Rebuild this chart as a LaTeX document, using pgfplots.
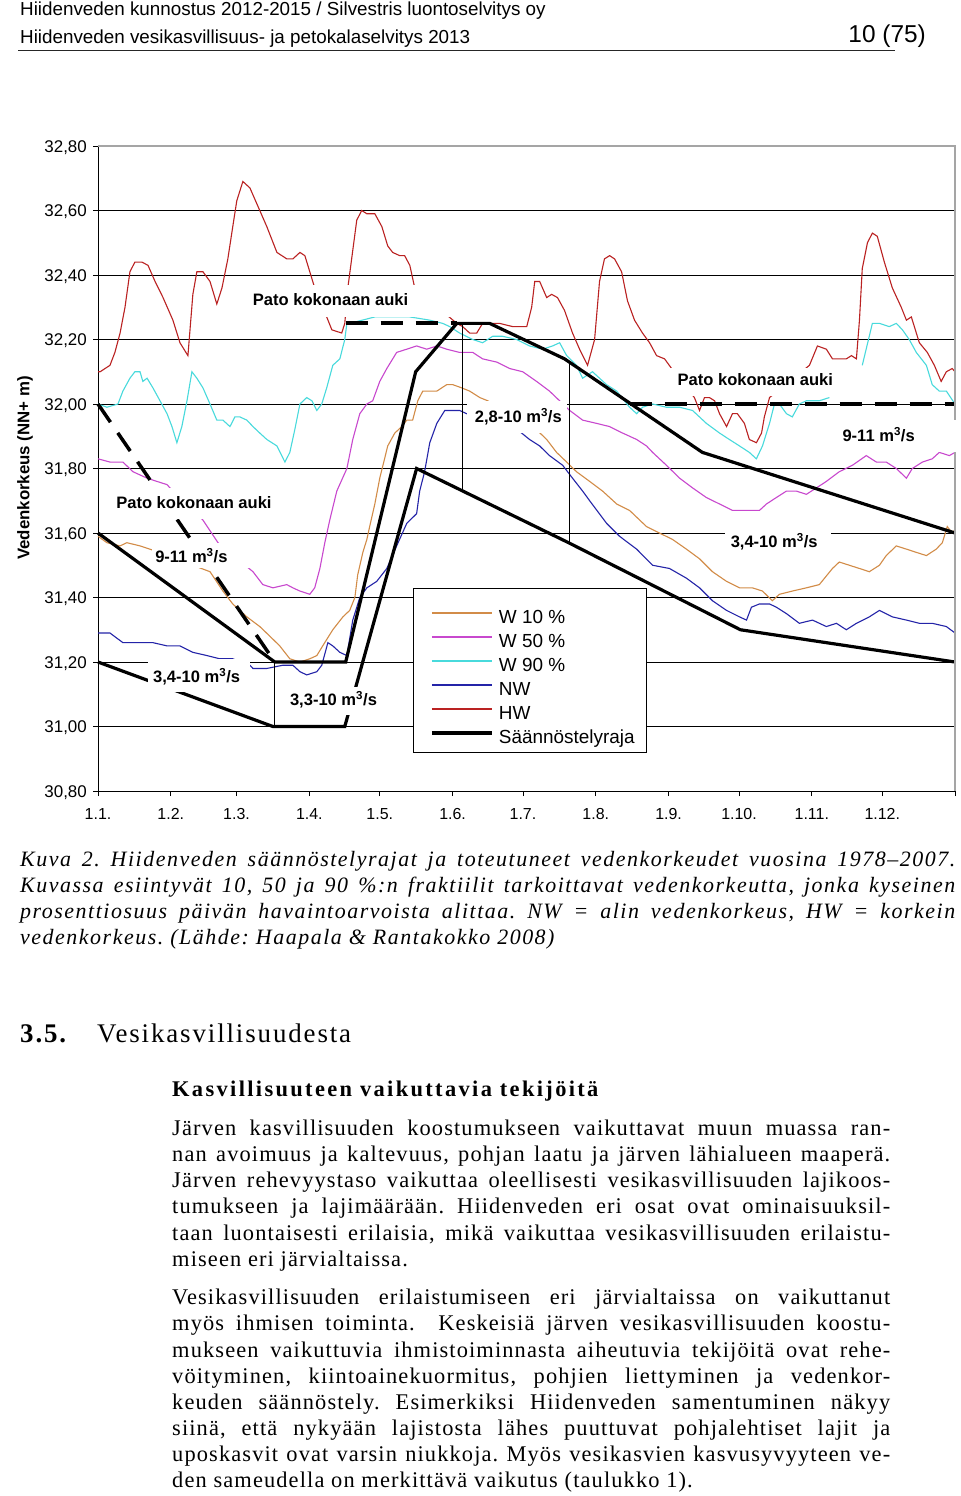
\documentclass[border=0pt]{standalone}
\usepackage{fontspec}
\usepackage{pgfplots}
\pgfplotsset{compat=1.18}
\setmainfont{Liberation Serif}
\newfontfamily\arial{Liberation Sans}
\newfontfamily\txtfont[LetterSpace=5]{Liberation Serif}
\newfontfamily\capfont[LetterSpace=7]{Liberation Serif}
\newfontfamily\subfont[LetterSpace=10.5]{Liberation Serif}
\newfontfamily\headfont[LetterSpace=7]{Liberation Serif}
\definecolor{cW10}{RGB}{210,140,72}
\definecolor{cW50}{RGB}{200,72,206}
\definecolor{cW90}{RGB}{72,218,220}
\definecolor{cNW}{RGB}{36,36,168}
\definecolor{cHW}{RGB}{186,34,34}
\definecolor{cGrey}{RGB}{165,165,165}
\tikzset{lbl/.style={anchor=west, inner sep=0pt, font=\arial\bfseries\fontsize{16.6}{17}\selectfont, text height=11.8bp, text depth=0bp}}
\newcommand\bodyline[3]{\node[anchor=base west,inner sep=0pt] at (#1,-#2) {\txtfont\fontsize{22.5}{26}\selectfont #3};}
\newcommand\capline[2]{\node[anchor=base west,inner sep=0pt] at (20,-#1) {\capfont\itshape\fontsize{22}{26}\selectfont #2};}
\frenchspacing
\begin{document}
\frenchspacing
\begin{tikzpicture}[x=1bp,y=1bp]
\path[use as bounding box, fill=white] (0,0) rectangle (960,-1496);
% header
\node[anchor=base west,inner sep=0pt,font=\arial\fontsize{18.9}{22}\selectfont] at (20,-16) {Hiidenveden kunnostus 2012-2015 / Silvestris luontoselvitys oy};
\node[anchor=base west,inner sep=0pt,font=\arial\fontsize{18.9}{22}\selectfont] at (20,-44) {Hiidenveden vesikasvillisuus- ja petokalaselvitys 2013};
\node[anchor=base east,inner sep=0pt,font=\arial\fontsize{24.5}{28}\selectfont] at (926,-42.5) {10 (75)};
\draw[line width=1.5bp, black!85] (18,-50.5) -- (895,-50.5);

\begin{axis}[
  at={(98bp,-791bp)}, anchor=south west,
  scale only axis, width=857bp, height=645bp,
  xmin=0, xmax=365, ymin=30.8, ymax=32.8,
  clip=false,
  axis x line*=bottom, axis y line*=left,
  axis line style={black, line width=1bp},
  xtick={0,31,59,90,120,151,181,212,243,273,304,334,365},
  xticklabels={1.1.,1.2.,1.3.,1.4.,1.5.,1.6.,1.7.,1.8.,1.9.,1.10.,1.11.,1.12.,{}},
  ytick={30.8,31.0,31.2,31.4,31.6,31.8,32.0,32.2,32.4,32.6,32.8},
  ymajorgrids, grid style={black, line width=0.8bp},
  tick align=outside, major tick length=5bp, tick style={black, line width=0.8bp},
  /pgf/number format/assume math mode=true,
  y tick label style={/pgf/number format/.cd, fixed, fixed zerofill, precision=2, use comma, /tikz/.cd},
  yticklabel style={font=\arial\fontsize{17}{17}\selectfont, anchor=east, inner sep=0pt, text height=12.2bp, text depth=0bp, xshift=-6bp},
  xticklabel style={font=\arial\fontsize{16}{16}\selectfont, anchor=north, inner sep=0pt, text height=11.5bp, text depth=0bp, yshift=-12bp},
  ylabel={Vedenkorkeus (NN+ m)},
  every axis y label/.style={at={(axis description cs:-0.0852,0.5008)}, rotate=90, anchor=center, font=\arial\bfseries\fontsize{16.9}{17}\selectfont},
  unbounded coords=jump,
  legend style={at={(axis cs:141.3,31.363)}, anchor=north west, draw=none, fill=none, inner sep=0pt,
     font=\arial\fontsize{19}{19}\selectfont, row sep=5bp,
     nodes={inner xsep=5bp, inner ysep=0bp, text height=14bp, text depth=5bp}},
  legend cell align=left,
  legend image code/.code={\draw[#1] (0bp,6bp) -- (60bp,6bp);},
]
% HW
\addplot[cHW, line width=1.1bp, forget plot] coordinates {
(0,32.10) (0.9,32.10) (5.1,32.12) (7.2,32.16) (9.4,32.22) (11.5,32.30) (13.6,32.41) (15.7,32.44) (18.7,32.44) (21.3,32.43) (24.3,32.38) (27.7,32.33) (31.9,32.26) (34.9,32.19) (38.3,32.15) (40.4,32.34) (42.1,32.41) (44.7,32.41) (47.7,32.38) (50.6,32.31) (52.8,32.36) (55.3,32.45) (57.4,32.55) (59.1,32.63) (61.7,32.69) (64.7,32.67) (67.7,32.62) (71.9,32.55) (76.2,32.47) (80.4,32.45) (83.0,32.45) (86.0,32.47) (88.1,32.46) (90.2,32.41) (92.3,32.36) (97.4,32.27) (99.6,32.23) (103.8,32.22) (105.1,32.25) (106.4,32.36) (110.2,32.57) (112.3,32.60) (114.5,32.59) (117.9,32.59) (120.9,32.55) (123.4,32.49) (125.5,32.47) (128.5,32.46) (130.6,32.46) (132.8,32.43) (134.9,32.36) (152.8,32.25) (155.3,32.24) (158.3,32.22) (161.3,32.22) (163.8,32.25) (166.8,32.25) (171.1,32.25) (176.6,32.24) (182.6,32.24) (184.7,32.30) (186.0,32.38) (188.1,32.38) (191.1,32.33) (193.2,32.34) (195.7,32.33) (198.7,32.29) (202.1,32.22) (205.1,32.17) (208.5,32.12) (211.5,32.20) (213.6,32.38) (215.7,32.45) (217.9,32.46) (220.0,32.45) (223.0,32.41) (225.5,32.32) (228.5,32.26) (231.9,32.22) (234.9,32.19) (237.9,32.15) (241.3,32.14) (244.3,32.11) (254.0,32.02) (256.2,31.98) (258.3,32.02) (260.4,32.02) (262.6,32.01) (264.7,31.97) (267.7,31.93) (270.2,31.97) (272.3,31.97) (275.3,31.94) (277.4,31.89) (280.4,31.88) (282.6,31.91) (283.8,31.96) (286.0,32.02) (303.0,32.12) (306.4,32.18) (310.2,32.17) (312.8,32.14) (315.7,32.14) (318.7,32.14) (320.9,32.15) (323.0,32.14) (324.3,32.26) (325.5,32.42) (327.7,32.50) (329.8,32.53) (331.9,32.52) (334.9,32.44) (338.3,32.36) (342.1,32.30) (344.3,32.26) (346.4,32.27) (349.8,32.19) (353.2,32.16) (356.2,32.12) (359.1,32.07) (361.3,32.10) (363.8,32.11) (365,32.10)};
% W 90
\addplot[cW90, line width=1.1bp, forget plot] coordinates {
(0,32.00) (3.8,31.99) (8.5,32.00) (10.6,32.04) (13.6,32.08) (15.7,32.10) (17.9,32.10) (19.1,32.07) (20.9,32.08) (23.4,32.05) (26.4,32.01) (29.4,31.97) (31.5,31.93) (33.6,31.88) (35.7,31.93) (37.9,32.01) (40.0,32.10) (42.1,32.08) (44.7,32.05) (47.7,32.00) (50.6,31.95) (53.2,31.95) (56.2,31.93) (58.3,31.96) (60.4,31.96) (63.4,31.95) (66.0,31.93) (68.9,31.91) (71.9,31.89) (76.2,31.87) (79.6,31.82) (81.7,31.85) (83.8,31.92) (86.0,32.00) (88.9,32.02) (91.1,32.01) (93.2,31.98) (95.3,32.00) (97.4,32.05) (100.0,32.12) (103.0,32.14) (105.1,32.20) (106.0,32.25) (107.2,32.25) (117.9,32.27) (127.2,32.27) (132.8,32.27) (141.3,32.26) (146.8,32.25) (149.8,32.24) (154.0,32.22) (159.6,32.20) (163.8,32.19) (168.1,32.21) (172.3,32.21) (178.3,32.20) (183.8,32.18) (189.4,32.17) (193.6,32.18) (196.6,32.19) (199.6,32.15) (203.8,32.12) (206.4,32.08) (210.6,32.10) (213.6,32.08) (216.6,32.06) (220.9,32.04) (226.4,31.99) (229.4,31.97) (231.9,31.99) (236.2,32.00) (242.1,31.99) (247.7,31.99) (253.2,31.98) (259.1,31.94) (264.7,31.91) (268.9,31.89) (273.2,31.87) (277.4,31.85) (280.4,31.83) (283.0,31.87) (286.0,31.94) (288.1,32.00) (290.2,32.00) (293.2,31.97) (295.7,31.96) (298.7,32.00) (301.7,32.01) (307.2,32.01) (311.5,32.02) (318,nan) (325.5,32.12) (329.8,32.25) (332.8,32.25) (337.0,32.24) (340.0,32.25) (342.6,32.23) (345.5,32.20) (348.5,32.16) (352.8,32.12) (355.3,32.06) (358.3,32.04) (361.3,32.04) (365,32.00)};
% W 50
\addplot[cW50, line width=1.1bp, forget plot] coordinates {
(0,31.83) (5.1,31.82) (10.6,31.82) (14.9,31.79) (20.9,31.77) (25.1,31.76) (29.4,31.75) (31.9,31.73) (44.7,31.64) (51.1,31.57) (66.0,31.48) (70.2,31.44) (74.5,31.43) (80.4,31.44) (83.0,31.43) (86.0,31.42) (90.2,31.41) (92.3,31.43) (94.5,31.49) (96.6,31.57) (98.7,31.64) (101.7,31.73) (106.0,31.80) (108.5,31.89) (111.5,31.97) (114.5,32.00) (117.0,32.01) (120.0,32.07) (123.0,32.11) (127.2,32.16) (131.5,32.17) (135.7,32.18) (140.0,32.17) (144.3,32.18) (148.5,32.17) (154.0,32.16) (159.6,32.16) (163.8,32.14) (169.8,32.13) (175.3,32.11) (180.9,32.10) (186.8,32.07) (192.3,32.04) (196.6,32.01) (200.9,31.98) (206.4,31.95) (212.3,31.94) (217.9,31.93) (223.4,31.91) (229.4,31.89) (233.6,31.87) (236.2,31.85) (242.1,31.81) (247.7,31.77) (253.2,31.74) (259.1,31.71) (264.7,31.69) (270.2,31.67) (276.2,31.67) (281.7,31.67) (284.7,31.69) (288.9,31.71) (293.2,31.73) (297.4,31.73) (301.7,31.72) (306.0,31.74) (310.2,31.76) (315.7,31.79) (321.3,31.81) (327.2,31.84) (331.5,31.82) (335.7,31.82) (340.0,31.80) (344.3,31.77) (346.8,31.80) (351.1,31.82) (355.3,31.83) (358.3,31.85) (362.6,31.84) (365,31.85)};
% W 10
\addplot[cW10, line width=1.1bp, forget plot] coordinates {
(0,31.59) (3.8,31.57) (9.4,31.56) (12.3,31.57) (17.9,31.56) (22.1,31.55) (47.7,31.48) (53.2,31.42) (57.4,31.38) (63.4,31.34) (68.9,31.31) (73.2,31.28) (77.4,31.25) (81.7,31.21) (86.0,31.20) (90.2,31.21) (93.2,31.22) (95.7,31.25) (100.0,31.30) (104.3,31.34) (107.2,31.36) (109.4,31.40) (110.6,31.47) (112.8,31.54) (114.5,31.58) (115.7,31.62) (117.9,31.69) (120.0,31.77) (123.4,31.87) (126.4,31.91) (129.4,31.93) (131.5,31.95) (134.0,31.95) (136.2,32.01) (138.3,32.04) (141.3,32.04) (144.3,32.04) (148.5,32.06) (151.1,32.06) (154.9,32.05) (158.3,32.04) (162.6,32.02) (166.0,32.01) (186.8,31.92) (191.1,31.89) (195.3,31.85) (199.6,31.82) (203.8,31.79) (209.4,31.76) (214.9,31.73) (220.9,31.69) (226.4,31.67) (233.6,31.62) (239.1,31.60) (244.7,31.58) (250.6,31.55) (256.2,31.52) (261.7,31.48) (267.7,31.45) (273.2,31.43) (278.7,31.43) (283.0,31.42) (287.2,31.39) (290.2,31.41) (295.7,31.42) (301.7,31.43) (307.2,31.44) (312.8,31.49) (315.7,31.51) (320.0,31.50) (324.3,31.49) (328.5,31.48) (332.8,31.50) (335.7,31.53) (340.0,31.56) (344.3,31.55) (348.5,31.54) (352.8,31.53) (357.0,31.55) (359.6,31.57) (361.7,31.62) (363.8,31.60) (365,31.61)};
% NW
\addplot[cNW, line width=1.1bp, forget plot] coordinates {
(0,31.29) (5.1,31.29) (10.6,31.26) (14.9,31.26) (23.4,31.26) (29.4,31.25) (34.9,31.25) (40.4,31.23) (46.4,31.22) (51.9,31.21) (57.4,31.21) (64.7,31.19) (66.0,31.18) (71.9,31.18) (78.7,31.19) (83.0,31.19) (86.0,31.17) (88.9,31.16) (93.2,31.17) (95.3,31.19) (97.9,31.26) (100.0,31.25) (103.0,31.23) (106.0,31.22) (108.5,31.33) (111.5,31.40) (114.5,31.43) (118.7,31.45) (123.0,31.49) (127.2,31.56) (131.5,31.63) (135.7,31.66) (137.0,31.73) (139.1,31.79) (141.3,31.88) (144.3,31.94) (147.7,31.98) (151.1,31.98) (154.0,31.98) (157.0,31.97) (178.7,31.92) (183.8,31.89) (188.1,31.87) (192.3,31.84) (197.9,31.81) (202.1,31.77) (206.4,31.73) (209.4,31.70) (216.6,31.63) (222.1,31.59) (229.4,31.55) (236.2,31.50) (243.4,31.49) (250.6,31.46) (256.2,31.43) (261.7,31.39) (267.7,31.36) (273.2,31.34) (276.2,31.33) (278.3,31.37) (281.7,31.38) (286.0,31.38) (288.9,31.37) (293.2,31.35) (298.7,31.32) (304.3,31.33) (310.2,31.31) (314.5,31.32) (318.7,31.30) (323.0,31.32) (328.5,31.34) (332.8,31.36) (338.3,31.34) (344.3,31.33) (349.8,31.32) (355.3,31.32) (361.3,31.31) (365,31.29)};
% regulation limits
\addplot[black, line width=3.2bp, forget plot] coordinates {(0,31.60) (75.3,31.20) (105.5,31.20) (135.3,32.10) (152.8,32.25) (166.8,32.25) (198.7,32.14) (257.4,31.85) (365,31.60)};
\addplot[black, line width=3.2bp, forget plot] coordinates {(0,31.20) (74.5,31.00) (105.1,31.00) (135.7,31.80) (200.4,31.57) (273.6,31.30) (365,31.20)};
\addplot[black, line width=3.8bp, dash pattern=on 22bp off 13bp, forget plot] coordinates {(105.5,32.25) (152.8,32.25)};
\addplot[black, line width=3.8bp, dash pattern=on 22bp off 13bp, forget plot] coordinates {(226.4,32.00) (365,32.00)};
\addplot[black, line width=3.5bp, dash pattern=on 22bp off 13bp, forget plot] coordinates {(0,32.00) (75.3,31.20)};
\addplot[black, line width=1.1bp, forget plot] coordinates {(75.3,31.20) (75.3,31.00)};
\addplot[black, line width=1.1bp, forget plot] coordinates {(155.3,32.25) (155.3,31.73)};
\addplot[black, line width=1.1bp, forget plot] coordinates {(200.9,32.13) (200.9,31.57)};
% border
\draw[cGrey, line width=1.6bp] (axis cs:0,32.8) -- (axis cs:365,32.8) -- (axis cs:365,30.8);
% label boxes
\fill[white] (axis cs:62.6,32.369) rectangle (axis cs:150.6,32.270);
\fill[white] (axis cs:243.4,32.112) rectangle (axis cs:317.9,32.026);
\fill[white] (axis cs:4.3,31.741) rectangle (axis cs:78.3,31.642);
\fill[white] (axis cs:157.0,32.010) rectangle (axis cs:199.6,31.911);
\fill[white] (axis cs:314.9,31.951) rectangle (axis cs:367.7,31.852);
\fill[white] (axis cs:23.0,31.570) rectangle (axis cs:64.7,31.490);
\fill[white] (axis cs:267.2,31.617) rectangle (axis cs:312.3,31.527);
\fill[white] (axis cs:21.3,31.208) rectangle (axis cs:64.7,31.106);
\fill[white] (axis cs:78.7,31.121) rectangle (axis cs:121.3,31.035);
\node[lbl] at (axis cs:65.9,32.323) {Pato kokonaan auki};
\node[lbl] at (axis cs:246.8,32.075) {Pato kokonaan auki};
\node[lbl] at (axis cs:7.7,31.694) {Pato kokonaan auki};
\node[lbl] at (axis cs:160.4,31.961) {2,8-10 m\textsuperscript{3}/s};
\node[lbl] at (axis cs:317.0,31.902) {9-11 m\textsuperscript{3}/s};
\node[lbl] at (axis cs:24.3,31.527) {9-11 m\textsuperscript{3}/s};
\node[lbl] at (axis cs:269.4,31.573) {3,4-10 m\textsuperscript{3}/s};
\node[lbl] at (axis cs:23.4,31.155) {3,4-10 m\textsuperscript{3}/s};
\node[lbl] at (axis cs:81.7,31.084) {3,3-10 m\textsuperscript{3}/s};
% legend frame
\filldraw[fill=white, draw=black, line width=1.2bp] (axis cs:134.5,31.428) rectangle (axis cs:233.6,30.920);
\addlegendimage{cW10, line width=2.4bp}\addlegendentry{W 10 \%}
\addlegendimage{cW50, line width=2.4bp}\addlegendentry{W 50 \%}
\addlegendimage{cW90, line width=2.4bp}\addlegendentry{W 90 \%}
\addlegendimage{cNW, line width=2.4bp}\addlegendentry{NW}
\addlegendimage{cHW, line width=2.4bp}\addlegendentry{HW}
\addlegendimage{black, line width=4bp}\addlegendentry{Säännöstelyraja}
\end{axis}

% caption
\capline{866}{\makebox[935bp][s]{Kuva 2. Hiidenveden säännöstelyrajat ja toteutuneet vedenkorkeudet vuosina 1978–2007.}}
\capline{892}{\makebox[935bp][s]{Kuvassa esiintyvät 10, 50 ja 90 \%:n fraktiilit tarkoittavat vedenkorkeutta, jonka kyseinen}}
\capline{918}{\makebox[935bp][s]{prosenttiosuus päivän havaintoarvoista alittaa. NW = alin vedenkorkeus, HW = korkein}}
\capline{944}{vedenkorkeus. (Lähde: Haapala \& Rantakokko 2008)}

% section heading
\node[anchor=base west,inner sep=0pt] at (20,-1042) {\headfont\bfseries\fontsize{27}{30}\selectfont 3.5.};
\node[anchor=base west,inner sep=0pt] at (97,-1042) {\headfont\fontsize{27}{30}\selectfont Vesikasvillisuudesta};
\node[anchor=base west,inner sep=0pt] at (172,-1096.5) {\subfont\bfseries\fontsize{22.5}{26}\selectfont Kasvillisuuteen vaikuttavia tekijöitä};

% body
\bodyline{172}{1135}{\makebox[718bp][s]{Järven kasvillisuuden koostumukseen vaikuttavat muun muassa ran-}}
\bodyline{172}{1161}{\makebox[718bp][s]{nan avoimuus ja kaltevuus, pohjan laatu ja järven lähialueen maaperä.}}
\bodyline{172}{1187.5}{\makebox[718bp][s]{Järven rehevyystaso vaikuttaa oleellisesti vesikasvillisuuden lajikoos-}}
\bodyline{172}{1213.5}{\makebox[718bp][s]{tumukseen ja lajimäärään. Hiidenveden eri osat ovat ominaisuuksil-}}
\bodyline{172}{1240}{\makebox[718bp][s]{taan luontaisesti erilaisia, mikä vaikuttaa vesikasvillisuuden erilaistu-}}
\bodyline{172}{1266}{miseen eri järvialtaissa.}
\bodyline{172}{1304.5}{\makebox[718bp][s]{Vesikasvillisuuden erilaistumiseen eri järvialtaissa on vaikuttanut}}
\bodyline{172}{1330.5}{\makebox[718bp][s]{myös ihmisen toiminta.\ \ Keskeisiä järven vesikasvillisuuden koostu-}}
\bodyline{172}{1357}{\makebox[718bp][s]{mukseen vaikuttuvia ihmistoiminnasta aiheutuvia tekijöitä ovat rehe-}}
\bodyline{172}{1383}{\makebox[718bp][s]{vöityminen, kiintoainekuormitus, pohjien liettyminen ja vedenkor-}}
\bodyline{172}{1409}{\makebox[718bp][s]{keuden säännöstely. Esimerkiksi Hiidenveden samentuminen näkyy}}
\bodyline{172}{1435.5}{\makebox[718bp][s]{siinä, että nykyään lajistosta lähes puuttuvat pohjalehtiset lajit ja}}
\bodyline{172}{1461.5}{\makebox[718bp][s]{uposkasvit ovat varsin niukkoja. Myös vesikasvien kasvusyvyyteen ve-}}
\bodyline{172}{1487.5}{den sameudella on merkittävä vaikutus (taulukko 1).}
\end{tikzpicture}
\end{document}
